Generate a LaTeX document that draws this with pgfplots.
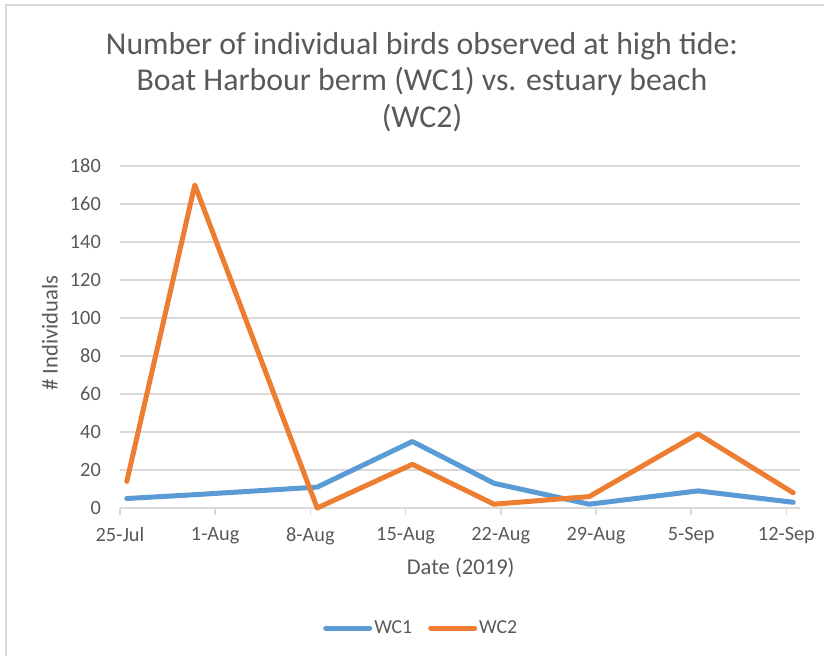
\documentclass[border=0pt]{standalone}
\usepackage{pgfplots}
\pgfplotsset{compat=1.18}
\usepackage{fontspec}
\setmainfont{Carlito}
\definecolor{wcblue}{HTML}{5B9BD5}
\definecolor{wcorange}{HTML}{ED7D31}
\definecolor{txt}{HTML}{595959}
\definecolor{gridc}{HTML}{D9D9D9}
\begin{document}
\begin{tikzpicture}
\path[use as bounding box] (0,0) rectangle (824bp,656bp);
\draw[gridc, line width=1.5bp] (6bp,0) -- (6bp,651bp) -- (824bp,651bp);
\node[txt, font=\fontsize{31.8bp}{36.5bp}\selectfont, align=center] at (422bp,574bp) {Number of individual birds observed at high tide:\\Boat Harbour berm (WC1) vs. estuary beach\\(WC2)};
\begin{axis}[
  at={(120bp,148bp)}, anchor=south west, scale only axis,
  width=680bp, height=342bp,
  xmin=0, xmax=50, ymin=0, ymax=180,
  xtick={0,7,...,49},
  xticklabels={25-Jul,1-Aug,8-Aug,15-Aug,22-Aug,29-Aug,5-Sep,12-Sep},
  ytick={0,20,...,180},
  ymajorgrids, major grid style={gridc, line width=1.5bp},
  axis line style={draw=none},
  xtick pos=bottom, ytick pos=left,
  xtick align=outside, major tick length=7bp,
  x tick style={gridc, line width=1.5bp},
  y tick style={draw=none},
  /pgf/number format/assume math mode=true,
  tick label style={txt, font=\fontsize{20.3bp}{24bp}\selectfont},
  yticklabel style={inner sep=0pt, xshift=-19bp},
  xticklabel style={inner sep=0pt, yshift=-12bp},
  xlabel={Date (2019)}, ylabel={\# Individuals},
  label style={txt, font=\fontsize{22.6bp}{26bp}\selectfont},
  xlabel style={at={(axis description cs:0.501,-0.175)}, anchor=center},
  ylabel style={at={(axis description cs:-0.103,0.512)}, anchor=center},
  legend style={at={(axis description cs:0.443,-0.351)}, anchor=center, draw=none, fill=none,
    legend columns=2, font=\fontsize{19.8bp}{23bp}\selectfont, text=txt,
    /tikz/every even column/.append style={column sep=14bp}},
  legend image code/.code={\draw[#1] (0bp,0bp) -- (44bp,0bp);},
  clip=false,
]
\addplot[wcblue, line width=5bp, line join=round, line cap=round] coordinates {
  (0.5,5) (5.5,7) (14.5,11) (21.5,35) (27.5,13) (34.5,2) (42.5,9) (49.5,3)};
\addlegendentry{WC1}
\addplot[wcorange, line width=5bp, line join=round, line cap=round] coordinates {
  (0.5,14) (5.5,170) (14.5,0) (21.5,23) (27.5,2) (34.5,6) (42.5,39) (49.5,8)};
\addlegendentry{WC2}
\end{axis}
\end{tikzpicture}
\end{document}
